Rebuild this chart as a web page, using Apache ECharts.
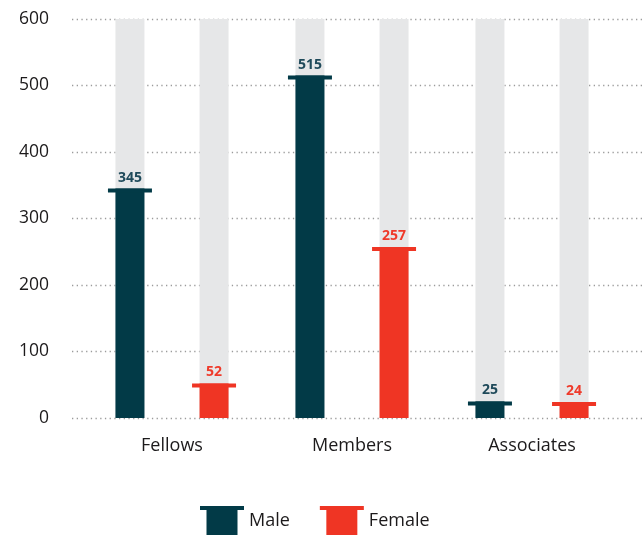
<!DOCTYPE html>
<html>
<head>
<meta charset="utf-8">
<script src="https://cdn.jsdelivr.net/npm/echarts@6/dist/echarts.min.js"></script>
<style>
  html, body { margin: 0; padding: 0; background: #fff; }
  #chart { width: 642px; height: 538px; }
</style>
</head>
<body>
<div id="chart"></div>
<script>
// Membership by grade and gender
const categories = ['Fellows', 'Members', 'Associates'];
const maleValues = [345, 515, 25];
const femaleValues = [52, 257, 24];
const yTicks = [0, 100, 200, 300, 400, 500, 600];

const MALE = '#023a47';
const FEMALE = '#ef3524';
const TRACK = '#e6e7e8';
const INK = '#1c1a1b';
const FONT = '"Open Sans", "Noto Sans", sans-serif';

// T-shaped marker: a wide cap on a narrower column
const T_ICON = 'path://M0,0 L44,0 L44,4 L37.5,4 L37.5,29 L6.5,29 L6.5,4 L0,4 Z';

const barCommon = {
  xAxisIndex: 1,
  yAxisIndex: 1,
  barWidth: 29,
  barGap: '190%',
  z: 2
};

const capCommon = {
  type: 'pictorialBar',
  xAxisIndex: 1,
  yAxisIndex: 1,
  barWidth: 29,
  barGap: '190%',
  symbol: 'rect',
  symbolSize: [44, 4],
  symbolPosition: 'end',
  z: 4
};

const chart = echarts.init(document.getElementById('chart'));
chart.setOption({
  animation: false,
  backgroundColor: '#ffffff',
  textStyle: { fontFamily: FONT },
  grid: [
    { left: 72, right: 0, top: 19, bottom: 120 },
    { left: 82, right: 20, top: 19, bottom: 120 }
  ],
  xAxis: [
    { type: 'category', gridIndex: 0, data: categories, show: false },
    {
      type: 'category',
      gridIndex: 1,
      data: categories,
      axisLine: { show: false },
      axisTick: { show: false },
      axisLabel: { color: INK, fontSize: 18, margin: 19, fontFamily: FONT }
    }
  ],
  yAxis: [
    {
      type: 'value',
      gridIndex: 0,
      min: yTicks[0],
      max: yTicks[yTicks.length - 1],
      interval: 100,
      axisLine: { show: false },
      axisTick: { show: false },
      axisLabel: { color: INK, fontSize: 17.5, margin: 23, fontFamily: FONT },
      splitLine: { lineStyle: { color: '#9b9b9b', width: 1.3, type: [1.3, 3.4] } }
    },
    {
      type: 'value',
      gridIndex: 1,
      min: yTicks[0],
      max: yTicks[yTicks.length - 1],
      show: false,
      splitLine: { show: false }
    }
  ],
  legend: {
    top: 506,
    left: 200,
    padding: 0,
    itemWidth: 44,
    itemHeight: 29,
    itemGap: 30,
    textStyle: {
      color: INK, fontSize: 18, fontFamily: FONT,
      lineHeight: 16, padding: [12, 0, 0, 0]
    },
    data: [
      { name: 'Male', icon: T_ICON, itemStyle: { color: MALE } },
      { name: 'Female', icon: T_ICON, itemStyle: { color: FEMALE } }
    ]
  },
  series: [
    Object.assign({}, barCommon, {
      type: 'bar',
      name: 'Male',
      data: maleValues,
      itemStyle: { color: MALE },
      showBackground: true,
      backgroundStyle: { color: TRACK },
      label: {
        show: true, position: 'top', distance: 4,
        color: '#1f4a5a', fontSize: 14, fontWeight: 'bold', fontFamily: FONT
      }
    }),
    Object.assign({}, barCommon, {
      type: 'bar',
      name: 'Female',
      data: femaleValues,
      itemStyle: { color: FEMALE },
      showBackground: true,
      backgroundStyle: { color: TRACK },
      label: {
        show: true, position: 'top', distance: 4,
        color: '#ef3a2a', fontSize: 14, fontWeight: 'bold', fontFamily: FONT
      }
    }),
    Object.assign({}, capCommon, {
      name: 'Male',
      data: maleValues,
      itemStyle: { color: MALE }
    }),
    Object.assign({}, capCommon, {
      name: 'Female',
      data: femaleValues,
      itemStyle: { color: FEMALE }
    })
  ]
});
</script>
</body>
</html>
